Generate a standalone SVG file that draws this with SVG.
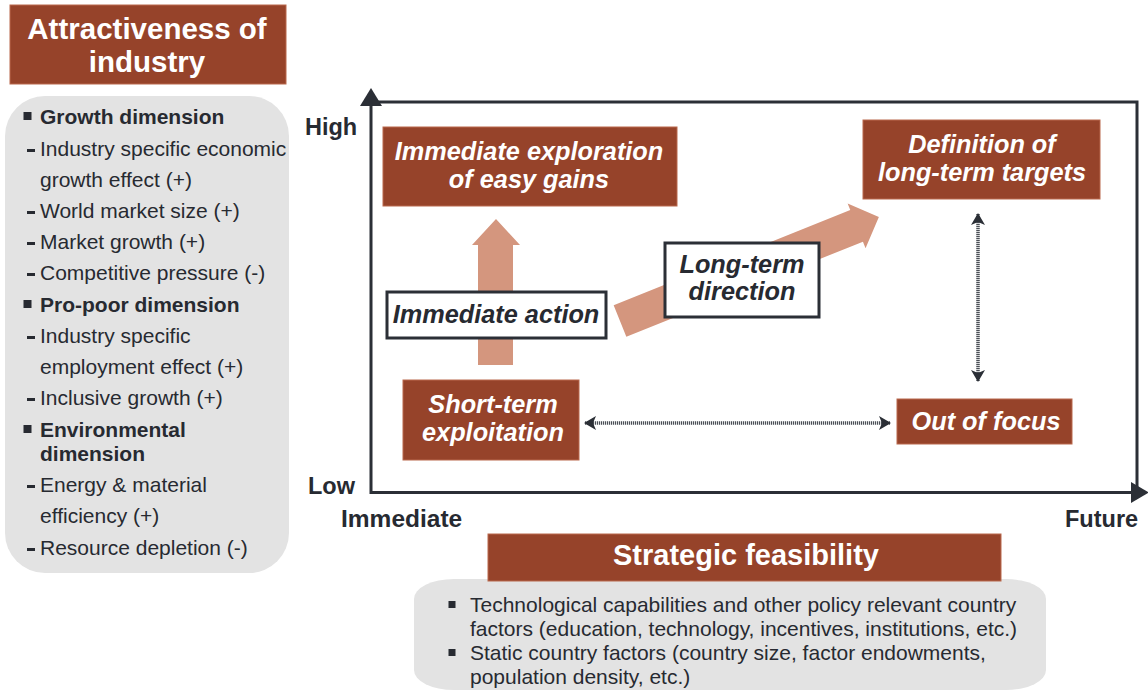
<svg xmlns="http://www.w3.org/2000/svg" width="1148" height="691" viewBox="0 0 1148 691">
<defs>
<style>
.hdr{fill:#96432a;stroke:#b9684c;stroke-width:1}
.panel{fill:#e3e3e3}
.lt{font-family:"Liberation Sans",Arial,sans-serif;font-size:21px;fill:#272a31}
.b{font-weight:bold}
.ht{font-family:"Liberation Sans",Arial,sans-serif;font-weight:bold;fill:#ffffff;text-anchor:middle}
.bt{font-family:"Liberation Sans",Arial,sans-serif;font-weight:bold;font-style:italic;font-size:25.3px;text-anchor:middle}
.wbox{fill:#ffffff;stroke:#2b2f36;stroke-width:3}
.ax{font-family:"Liberation Sans",Arial,sans-serif;font-weight:bold;font-size:23.5px;fill:#272a31}
.axis{stroke:#2b2f36;stroke-width:3;fill:none}
.big{fill:#d4967e}
.dot{stroke:#4a4f56;stroke-width:3.5;stroke-dasharray:1.2 0.8;fill:none}
.bt2{font-family:"Liberation Sans",Arial,sans-serif;font-size:21px;fill:#272a31}
</style>
<marker id="ah" viewBox="0 0 12 14" refX="11" refY="7" markerWidth="12" markerHeight="14" markerUnits="userSpaceOnUse" orient="auto-start-reverse">
<path d="M0,0 L12,7 L0,14 L3,7 Z" fill="#2b2f36"/>
</marker>
</defs>
<rect width="1148" height="691" fill="#ffffff"/>

<g id="attractiveness-header">
<rect class="hdr" x="10" y="5" width="276" height="79"/>
<text class="ht" x="147" y="39" font-size="29.5">Attractiveness of</text>
<text class="ht" x="147" y="72" font-size="29.5">industry</text>
</g>

<g id="attractiveness-list">
<rect class="panel" x="5" y="96" width="284" height="477" rx="40" ry="40"/>
<g fill="#272a31">
<rect x="23.5" y="112" width="8" height="8"/>
<rect x="23.5" y="300" width="8" height="8"/>
<rect x="23.5" y="425" width="8" height="8"/>
<rect x="27" y="149" width="8" height="3"/>
<rect x="27" y="211" width="8" height="3"/>
<rect x="27" y="242" width="8" height="3"/>
<rect x="27" y="273" width="8" height="3"/>
<rect x="27" y="336" width="8" height="3"/>
<rect x="27" y="398" width="8" height="3"/>
<rect x="27" y="485" width="8" height="3"/>
<rect x="27" y="548" width="8" height="3"/>
</g>
<text class="lt b" x="40" y="124">Growth dimension</text>
<text class="lt" x="40" y="156">Industry specific economic</text>
<text class="lt" x="40" y="187">growth effect (+)</text>
<text class="lt" x="40" y="218">World market size (+)</text>
<text class="lt" x="40" y="249">Market growth (+)</text>
<text class="lt" x="40" y="280">Competitive pressure (-)</text>
<text class="lt b" x="40" y="312">Pro-poor dimension</text>
<text class="lt" x="40" y="343">Industry specific</text>
<text class="lt" x="40" y="374">employment effect (+)</text>
<text class="lt" x="40" y="405">Inclusive growth (+)</text>
<text class="lt b" x="40" y="437">Environmental</text>
<text class="lt b" x="40" y="461">dimension</text>
<text class="lt" x="40" y="492">Energy &amp; material</text>
<text class="lt" x="40" y="523">efficiency (+)</text>
<text class="lt" x="40" y="555">Resource depletion (-)</text>
</g>

<g id="axes">
<path class="axis" d="M371,104 L371,492.5 L1134,492.5"/>
<path class="axis" d="M371,102 L1137,102 L1137,492.5"/>
<path d="M371,88 L382,106 L360,106 Z" fill="#2b2f36"/>
<path d="M1149,492.5 L1131,482 L1131,503 Z" fill="#2b2f36"/>
<text class="ax" x="305" y="135">High</text>
<text class="ax" x="308" y="494">Low</text>
<text class="ax" x="341" y="527" style="font-size:24.5px">Immediate</text>
<text class="ax" x="1065" y="527">Future</text>
</g>

<g id="connectors">
<path class="big" d="M478,365 L478,245 L472,245 L496,219 L520,245 L513,245 L513,365 Z"/>
<g transform="translate(620,321) rotate(-21.9)">
<path class="big" d="M0,-17 L255,-17 L255,-24 L279,0 L255,24 L255,17 L0,17 Z"/>
</g>
<line class="dot" x1="585" y1="423" x2="890" y2="423" marker-start="url(#ah)" marker-end="url(#ah)"/>
<line class="dot" x1="978" y1="214" x2="978" y2="381" marker-start="url(#ah)" marker-end="url(#ah)"/>
</g>

<g id="immediate-exploration">
<rect class="hdr" x="383" y="127" width="294" height="79"/>
<text class="bt" x="529" y="160" fill="#ffffff">Immediate exploration</text>
<text class="bt" x="529" y="188" fill="#ffffff">of easy gains</text>
</g>

<g id="definition-targets">
<rect class="hdr" x="863" y="120" width="237" height="79"/>
<text class="bt" x="982" y="153" fill="#ffffff">Definition of</text>
<text class="bt" x="982" y="181" fill="#ffffff">long-term targets</text>
</g>

<g id="immediate-action">
<rect class="wbox" x="387" y="292" width="219" height="46"/>
<text class="bt" x="496" y="323" fill="#272a31">Immediate action</text>
</g>

<g id="long-term-direction">
<rect class="wbox" x="665" y="243" width="154" height="74"/>
<text class="bt" x="742" y="273" fill="#272a31">Long-term</text>
<text class="bt" x="742" y="300" fill="#272a31">direction</text>
</g>

<g id="short-term-exploitation">
<rect class="hdr" x="403" y="380" width="176" height="80"/>
<text class="bt" x="493" y="413" fill="#ffffff">Short-term</text>
<text class="bt" x="493" y="441" fill="#ffffff">exploitation</text>
</g>

<g id="out-of-focus">
<rect class="hdr" x="897" y="399" width="175" height="45"/>
<text class="bt" x="986" y="430" fill="#ffffff">Out of focus</text>
</g>

<g id="strategic-feasibility">
<rect class="panel" x="414" y="579" width="632" height="111" rx="40" ry="20"/>
<rect class="hdr" x="488" y="534" width="513" height="47"/>
<text class="ht" x="746" y="565" font-size="29">Strategic feasibility</text>
<rect x="448.5" y="601" width="7" height="7" fill="#272a31"/>
<rect x="448.5" y="649" width="7" height="7" fill="#272a31"/>
<text class="bt2" x="470" y="612">Technological capabilities and other policy relevant country</text>
<text class="bt2" x="470" y="636">factors (education, technology, incentives, institutions, etc.)</text>
<text class="bt2" x="470" y="660">Static country factors (country size, factor endowments,</text>
<text class="bt2" x="470" y="684">population density, etc.)</text>
</g>
</svg>
